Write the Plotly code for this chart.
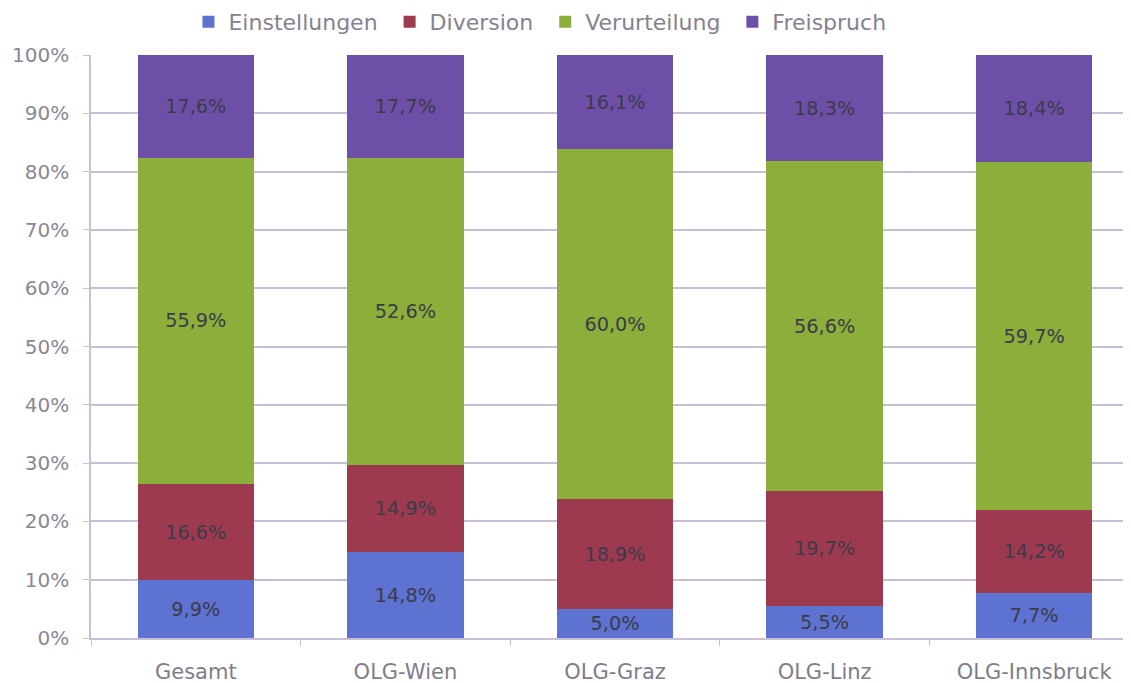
import plotly.graph_objects as go

categories = ["Gesamt", "OLG-Wien", "OLG-Graz", "OLG-Linz", "OLG-Innsbruck"]
series_names = ["Einstellungen", "Diversion", "Verurteilung", "Freispruch"]
einstellungen = [9.9, 14.8, 5.0, 5.5, 7.7]
diversion = [16.6, 14.9, 18.9, 19.7, 14.2]
verurteilung = [55.9, 52.6, 60.0, 56.6, 59.7]
freispruch = [17.6, 17.7, 16.1, 18.3, 18.4]
y_ticks = [0, 10, 20, 30, 40, 50, 60, 70, 80, 90, 100]

colors = ["#5d72d1", "#9e3a50", "#8cae3b", "#6e4fa8"]
font_family = "'DejaVu Sans', sans-serif"
grid_col = "#c6bfd6"

fig = go.Figure()
for name, vals, col in zip(series_names, [einstellungen, diversion, verurteilung, freispruch], colors):
    fig.add_trace(go.Bar(
        name=name + "\u00a0", x=categories, y=vals,
        marker=dict(color=col, line=dict(width=0)),
        text=[f"{v:.1f}%".replace(".", ",") for v in vals],
        textposition="inside", insidetextanchor="middle",
        textfont=dict(color="#3b3b4a", size=20, family=font_family),
        hoverinfo="skip",
    ))

fig.update_layout(
    barmode="stack",
    bargap=0.445,
    width=1131, height=683,
    margin=dict(l=83, r=0, t=47, b=53),
    paper_bgcolor="white", plot_bgcolor="white",
    font=dict(family=font_family, color="#8a8794", size=20),
    showlegend=True,
    legend=dict(orientation="h", x=0.093, xanchor="left",
                yref="container", y=0.9795, yanchor="middle",
                font=dict(size=22, color="#86818f"), traceorder="normal",
                itemwidth=30, tracegroupgap=0),
    uniformtext=dict(mode="show", minsize=10),
)
fig.update_yaxes(
    range=[0, 100], tickvals=y_ticks, ticktext=[f"{t}%" for t in y_ticks],
    showgrid=True, gridcolor=grid_col, gridwidth=1.5,
    showline=True, linecolor=grid_col, linewidth=1.5,
    ticks="outside", ticklen=6, tickcolor=grid_col, ticklabelstandoff=10,
    tickfont=dict(size=20, color="#8a8794"), zeroline=False, automargin=False,
)
fig.update_xaxes(
    showline=True, linecolor=grid_col, linewidth=1.5,
    ticks="outside", ticklen=6, tickcolor=grid_col, tickson="boundaries",
    ticklabelstandoff=14,
    tickfont=dict(size=21, color="#807d88"), showgrid=False, automargin=False,
)

fig.write_html("out.html")
